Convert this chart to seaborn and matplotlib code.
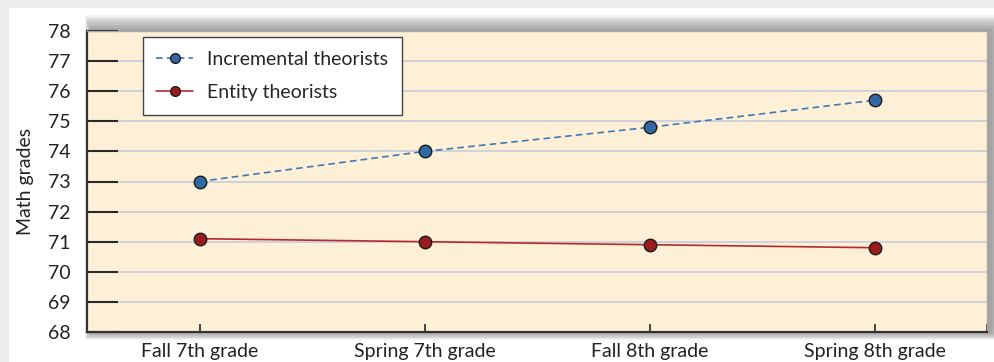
import matplotlib
matplotlib.use("Agg")
import matplotlib.pyplot as plt
import matplotlib.patches as mpatches
import seaborn as sns
import pandas as pd

categories = ["Fall 7th grade", "Spring 7th grade", "Fall 8th grade", "Spring 8th grade"]
incremental = [73.0, 74.0, 74.8, 75.7]
entity = [71.1, 71.0, 70.9, 70.8]
series_names = ["Incremental theorists", "Entity theorists"]
y_ticks = list(range(68, 79))

df = pd.DataFrame({
    "grade": categories * 2,
    "value": incremental + entity,
    "group": [series_names[0]] * 4 + [series_names[1]] * 4,
})

sns.set_style("white")
plt.rcParams["font.family"] = ["Lato", "DejaVu Sans"]
FS = 14

W, H = 994, 362
fig = plt.figure(figsize=(W / 100, H / 100), dpi=100)
fig.patch.set_facecolor("#ededed")
# white panel
fig.patches.append(mpatches.Rectangle((9 / W, 0), 1, 1 - 8 / H, transform=fig.transFigure,
                                      facecolor="white", edgecolor="none", zorder=-10))
L, R, T, B = 87, 987, 31, 332
# soft shadow behind plot area (mostly up and to the right)
for g in range(20, 0, -2):
    fig.patches.append(mpatches.Rectangle(((L + 4 - g * 0.3) / W, 1 - (B + g * 0.4) / H),
                                          (R - L + g * 0.9) / W, (B - T + g * 1.2) / H,
                                          transform=fig.transFigure, facecolor="#333333",
                                          edgecolor="none", alpha=0.055, zorder=-5))

ax = fig.add_axes([L / W, 1 - B / H, (R - L) / W, (B - T) / H])
ax.set_facecolor("#fdf0d6")

palette = {series_names[0]: "#3c79b6", series_names[1]: "#b52a2e"}
sns.lineplot(data=df, x="grade", y="value", hue="group", style="group",
             palette=palette, dashes={series_names[0]: (4, 2.5), series_names[1]: ""},
             markers={series_names[0]: "o", series_names[1]: "o"}, markersize=9,
             markeredgecolor="#1c1c1c", markeredgewidth=1.0, linewidth=1.2, ax=ax, sort=False)

for line, c in zip(ax.lines[:2], ["#2f68a3", "#9a1a1e"]):
    line.set_markerfacecolor(c)

ax.set_xlim(-0.5, 3.5)
ax.set_ylim(68, 78)
ax.set_yticks(y_ticks)
ax.set_yticklabels([str(v) for v in y_ticks], fontsize=FS, color="#222222")
ax.set_xticks(range(len(categories)))
ax.set_xticklabels(categories, fontsize=FS, color="#222222")
ax.grid(axis="y", color="#cfd2da", linewidth=1.4, zorder=0)
ax.set_axisbelow(True)
ax.tick_params(axis="y", direction="in", length=22, width=1.5, color="#2a2a2a", pad=12, left=True)
ax.tick_params(axis="x", direction="in", length=6, width=1.2, color="#2a2a2a", pad=8, bottom=True)
ax.set_xticks([3.5], minor=True)
ax.tick_params(axis="x", which="minor", direction="in", length=6, width=1.2, color="#2a2a2a", bottom=True)
ax.set_xlabel("")
ax.set_ylabel("Math grades", fontsize=FS, color="#222222", labelpad=10)

for s in ["left", "bottom"]:
    ax.spines[s].set_color("#333333")
    ax.spines[s].set_linewidth(1.6)
for s in ["top", "right"]:
    ax.spines[s].set_color("#a8a8a8")
    ax.spines[s].set_linewidth(1.0)

handles, labels = ax.get_legend_handles_labels()
leg = ax.legend(handles, labels, loc="upper left", bbox_to_anchor=(0.062, 0.98), fontsize=FS,
                frameon=True, fancybox=False, edgecolor="#444444", framealpha=1,
                facecolor="white", handlelength=1.9, borderpad=0.7, labelspacing=0.85,
                handletextpad=0.7, borderaxespad=0)
leg.get_frame().set_linewidth(1.0)
for h, c in zip(leg.legend_handles, ["#2f68a3", "#9a1a1e"]):
    h.set_markerfacecolor(c)
    h.set_markeredgecolor("#1c1c1c")
    h.set_markersize(7)

fig.savefig("out.png", dpi=100, facecolor=fig.get_facecolor())
